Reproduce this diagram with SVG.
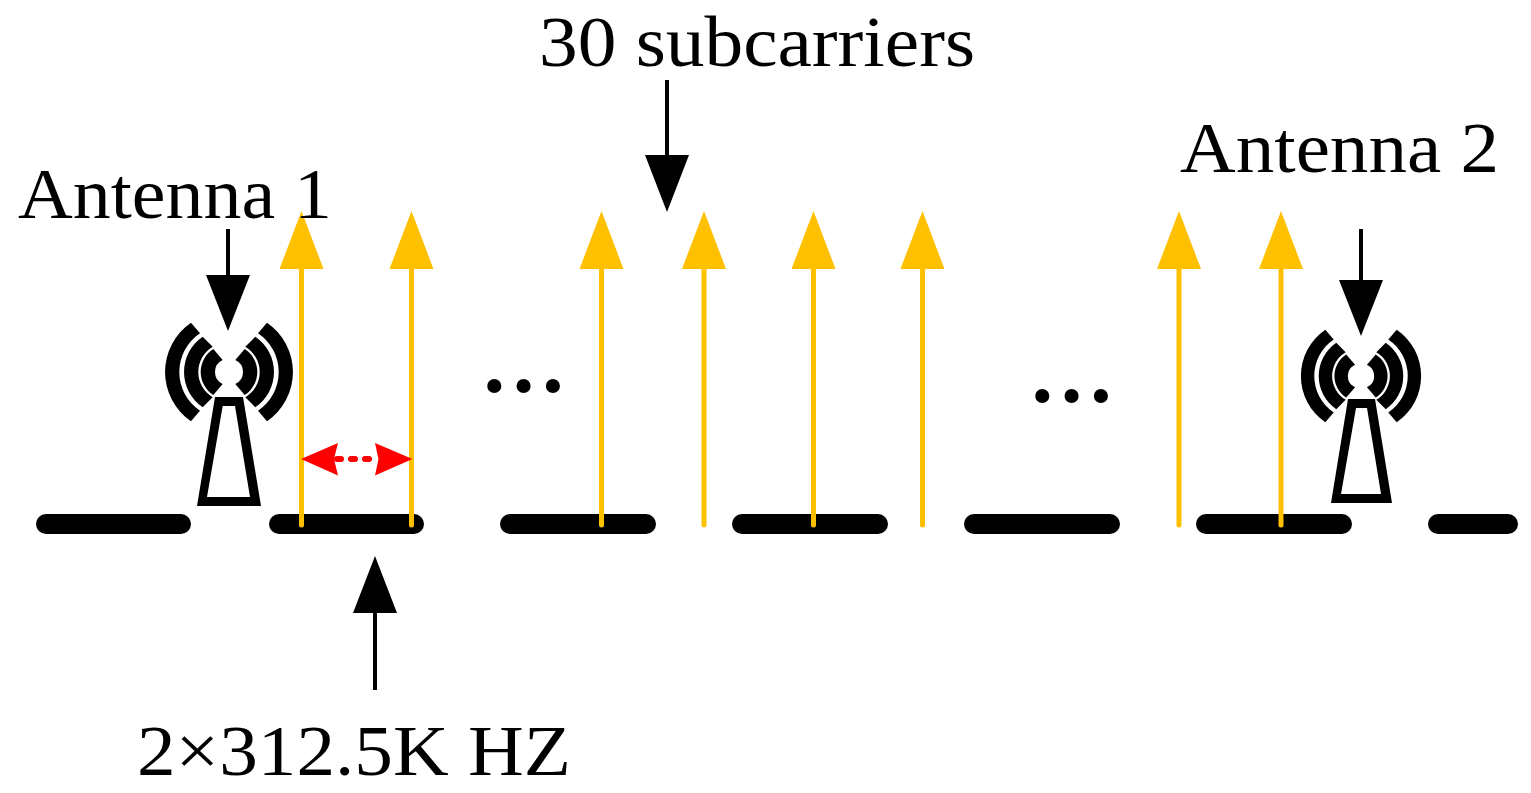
<svg xmlns="http://www.w3.org/2000/svg" width="1531" height="793" viewBox="0 0 1531 793">
<defs>
<style>
text{font-family:"Liberation Serif","Times New Roman",serif;font-size:72px;fill:#000}
.dots{font-size:87px;font-weight:bold}
.base{stroke:#000;stroke-width:20;stroke-linecap:round;fill:none}
.sub{stroke:#FFC000;stroke-width:5;stroke-linecap:round;fill:none}
.ah{fill:#FFC000}
.bl{stroke:#000;stroke-width:4;fill:none}
</style>
<path id="halfwave" d="M-38-49.300A59.800 59.800 0 0 0-38 49.300L-29 38.700A46.500 46.500 0 0 1-29-38.700ZM-26.300-35.300A42.700 42.700 0 0 0-26.300 35.300L-16.300 25.300A29.400 29.400 0 0 1-16.300-25.300ZM-15.700-23A27.300 27.300 0 0 0-15.700 23L-6.300 12A13.200 13.200 0 0 1-6.300-12Z"/>
<g id="waves"><use href="#halfwave"/><use href="#halfwave" transform="scale(-1 1)"/></g>
<path id="yh" class="ah" d="M0 0L22 58H-22Z"/>
</defs>
<rect width="1531" height="793" fill="#fff"/>
<g id="baseline" class="base">
<path d="M46 524H181M279 524H414M510 524H646M742 524H878M974 524H1110M1206 524H1342M1438 524H1508"/>
</g>
<g id="connectors">
<path class="sub" d="M301.500 262V525M411.500 262V525M601.500 262V525M704 262V525M813.500 262V525M922.500 262V525M1179 262V525M1281 262V525"/>
<use href="#yh" x="301.500" y="211"/><use href="#yh" x="411.500" y="211"/><use href="#yh" x="601.500" y="211"/><use href="#yh" x="704" y="211"/><use href="#yh" x="813.500" y="211"/><use href="#yh" x="922.500" y="211"/><use href="#yh" x="1179" y="211"/><use href="#yh" x="1281" y="211"/>
<path class="bl" d="M667 80V160M228 229V280M1361 229V285M375 608V690"/>
<path d="M667 212L645 155H689ZM228 331L206 275H250ZM1361 336L1339 280H1383ZM375 556L353 613H397Z"/>
<path d="M337 459H369" stroke="#f00" stroke-width="6" stroke-dasharray="4 10" stroke-linecap="round" fill="none"/>
<path fill="#f00" d="M301 459L338 443L334 459L338 475.500ZM412.500 459L375 443L378.500 459L375 475.500Z"/>
</g>
<g id="antenna1">
<use href="#waves" transform="translate(229 372)"/>
<path fill-rule="evenodd" d="M215 397H243L261 506H197ZM222.700 406L207 497H250L235 406Z"/>
</g>
<g id="antenna2">
<use href="#waves" transform="translate(1361 376) scale(.94)"/>
<path fill-rule="evenodd" d="M1348 399H1375L1392 503H1331ZM1356 408L1341 494H1381L1367 408Z"/>
</g>
<g id="labels">
<text x="539" y="66" textLength="436" lengthAdjust="spacingAndGlyphs">30 subcarriers</text>
<text x="18" y="218" textLength="314" lengthAdjust="spacingAndGlyphs">Antenna 1</text>
<text x="1180" y="172" textLength="319" lengthAdjust="spacingAndGlyphs">Antenna 2</text>
<text x="137" y="775" textLength="434" lengthAdjust="spacingAndGlyphs">2×312.5K HZ</text>
<text class="dots" x="480" y="392">…</text>
<text class="dots" x="1028" y="402">…</text>
</g>
</svg>
